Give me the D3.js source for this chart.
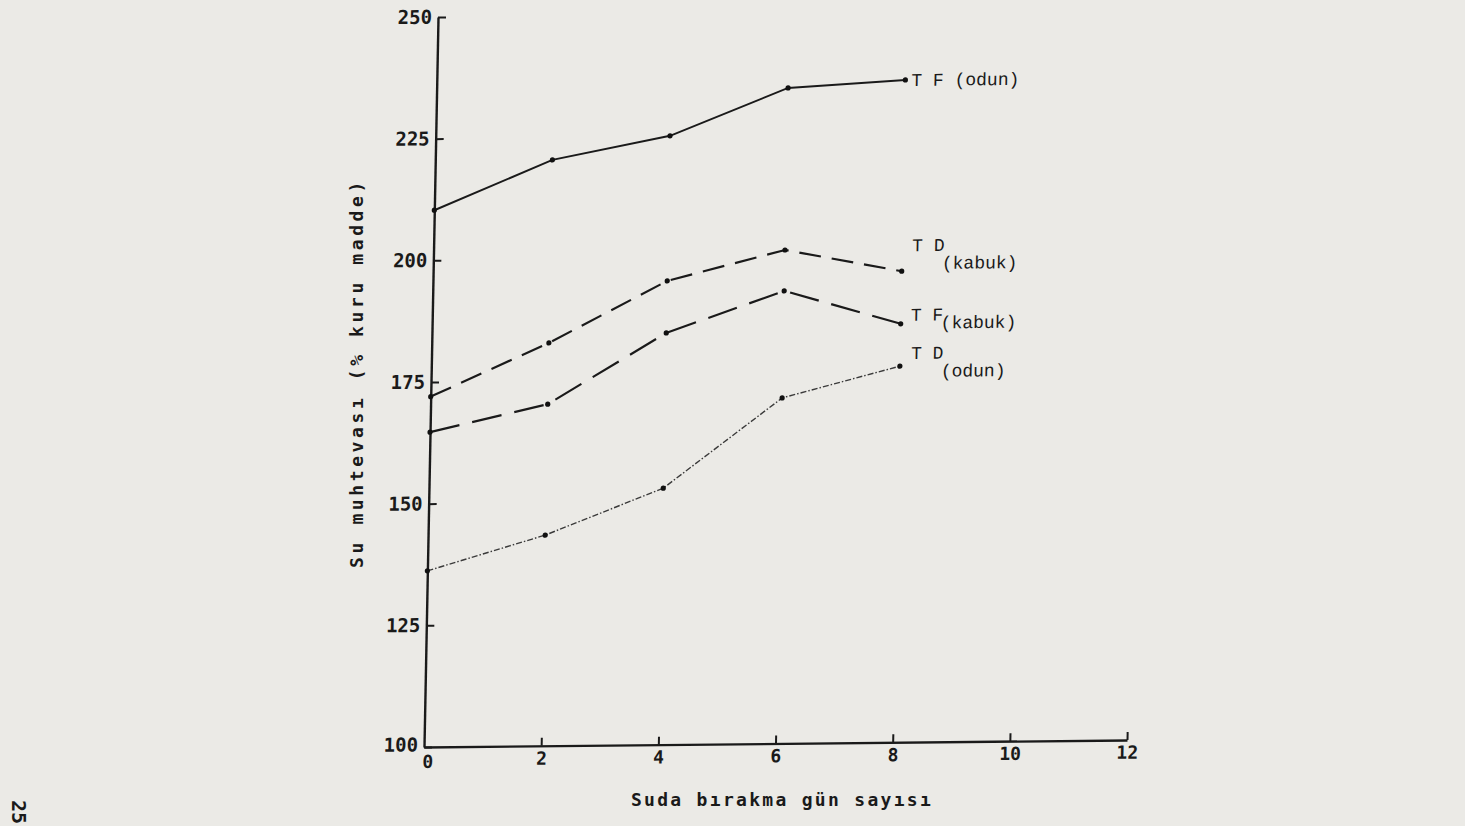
<!DOCTYPE html>
<html>
<head>
<meta charset="utf-8">
<script src="https://cdn.jsdelivr.net/npm/d3@7"></script>
<style>
  html, body { margin: 0; padding: 0; background: #ebeae6; }
  svg { display: block; }
  .tick text { font-family: "DejaVu Sans Mono", monospace; font-weight: bold; fill: #1a1a1a; }
</style>
</head>
<body>
<div id="chart"></div>
<script>
// days in water
var days = [0, 2, 4, 6, 8];
var xTicks = [0, 2, 4, 6, 8, 10, 12];
var yTicks = [100, 125, 150, 175, 200, 225, 250];

// water content (% dry matter)
var tfOdun = [210.3, 220.4, 225.1, 234.7, 236.1];
var tdKabuk = [172.0, 182.8, 195.3, 201.4, 196.8];
var tfKabuk = [164.7, 170.2, 184.6, 193.0, 186.0];
var tdOdun = [136.2, 143.3, 152.7, 171.0, 177.3];

var seriesNames = ["T F (odun)", "T D (kabuk)", "T F (kabuk)", "T D (odun)"];

var W = 1465, H = 826;
var plotW = 703, plotH = 730;
// the scan is slightly skewed
var skewA = -0.0192, skewB = -0.01;

var svg = d3.select("#chart").append("svg")
    .attr("width", W)
    .attr("height", H);

var g = svg.append("g")
    .attr("transform", "matrix(1," + skewB + "," + skewA + ",1,424,747)");

var x = d3.scaleLinear().domain([0, 12]).range([0, plotW]);
var y = d3.scaleLinear().domain([100, 250]).range([0, -plotH]);

var fmt = function (d) { return String(d); };

// y axis
var yAxis = g.append("g")
    .call(d3.axisLeft(y).tickValues(yTicks).tickSize(-8).tickSizeOuter(0).tickPadding(6).tickFormat(fmt));
yAxis.select(".domain").attr("stroke", "#1a1a1a").attr("stroke-width", 2.4);
yAxis.selectAll(".tick line").attr("stroke", "#1a1a1a").attr("stroke-width", 2);
yAxis.selectAll(".tick text").style("font-size", "19px");
yAxis.selectAll(".tick").filter(function (d) { return d === 100; })
    .select("text").attr("dy", "0.2em");

// x axis
var xAxis = g.append("g")
    .call(d3.axisBottom(x).tickValues(xTicks).tickSize(-8).tickSizeOuter(0).tickPadding(6).tickFormat(function (d) { return d === 0 ? "" : fmt(d); }));
xAxis.select(".domain").attr("stroke", "#1a1a1a").attr("stroke-width", 2.4);
xAxis.selectAll(".tick line").attr("stroke", "#1a1a1a").attr("stroke-width", 2)
    .filter(function (d) { return d === 0; }).remove();
xAxis.selectAll(".tick text").style("font-size", "18px");

// the 0 of the x axis sits just below the corner
g.append("text")
    .attr("x", x(0) + 4)
    .attr("y", 21)
    .attr("text-anchor", "middle")
    .style("font-family", "DejaVu Sans Mono, monospace")
    .style("font-weight", "bold")
    .style("font-size", "18px")
    .attr("fill", "#1a1a1a")
    .text("0");

var line = d3.line()
    .x(function (d, i) { return x(days[i]); })
    .y(function (d) { return y(d); });

var series = [
    { name: seriesNames[0], values: tfOdun, dash: null, width: 2, color: "#1a1a1a" },
    { name: seriesNames[1], values: tdKabuk, dash: "22,11", width: 2.2, color: "#1a1a1a" },
    { name: seriesNames[2], values: tfKabuk, dash: "30,13", width: 2.2, color: "#1a1a1a" },
    { name: seriesNames[3], values: tdOdun, dash: "6,2,1.5,2", width: 1.4, color: "#3a3a3a" }
];

series.forEach(function (s) {
    g.append("path")
        .datum(s.values)
        .attr("fill", "none")
        .attr("stroke", s.color)
        .attr("stroke-width", s.width)
        .attr("stroke-dasharray", s.dash)
        .attr("d", line);

    g.selectAll(null)
        .data(s.values)
        .enter().append("circle")
        .attr("cx", function (d, i) { return x(days[i]); })
        .attr("cy", function (d) { return y(d); })
        .attr("r", 2.6)
        .attr("fill", "#111");
});

// series labels next to the last point
var labelFont = "Liberation Mono, DejaVu Sans Mono, monospace";
function addLabel(vals, txt, dx, dy) {
    g.append("text")
        .attr("x", x(days[days.length - 1]) + dx)
        .attr("y", y(vals[vals.length - 1]) + dy)
        .style("font-family", labelFont)
        .style("font-size", "18px")
        .attr("fill", "#1a1a1a")
        .text(txt);
}
addLabel(tfOdun, "T F (odun)", 6, 6);
addLabel(tdKabuk, "T D", 10, -20);
addLabel(tdKabuk, "(kabuk)", 40, -2);
addLabel(tfKabuk, "T F", 10, -3);
addLabel(tfKabuk, "(kabuk)", 40, 5);
addLabel(tdOdun, "T D", 11, -7);
addLabel(tdOdun, "(odun)", 41, 11);

// axis titles
svg.append("text")
    .attr("transform", "translate(363,373) rotate(-90)")
    .attr("text-anchor", "middle")
    .style("font-family", "DejaVu Sans Mono, monospace")
    .style("font-weight", "bold")
    .style("font-size", "18px")
    .style("letter-spacing", "3.6px")
    .attr("fill", "#1a1a1a")
    .text("Su muhtevası (% kuru madde)");

svg.append("text")
    .attr("x", 782)
    .attr("y", 806)
    .attr("text-anchor", "middle")
    .style("font-family", "DejaVu Sans Mono, monospace")
    .style("font-weight", "bold")
    .style("font-size", "18px")
    .style("letter-spacing", "2.3px")
    .attr("fill", "#1a1a1a")
    .text("Suda bırakma gün sayısı");

// page number
svg.append("text")
    .attr("transform", "translate(12,812) rotate(90)")
    .attr("text-anchor", "middle")
    .style("font-family", "DejaVu Sans Mono, monospace")
    .style("font-weight", "bold")
    .style("font-size", "20px")
    .attr("fill", "#1a1a1a")
    .text("25");
</script>
</body>
</html>
